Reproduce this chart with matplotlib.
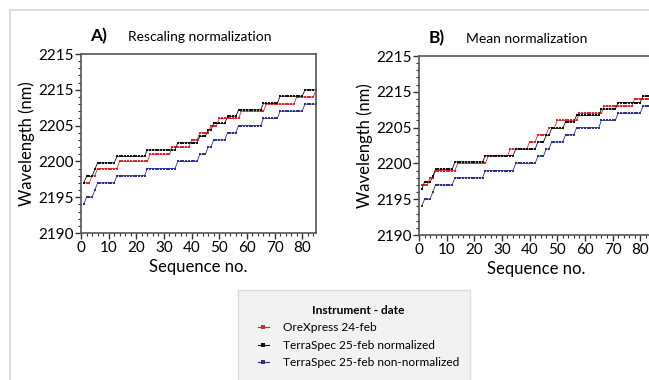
import numpy as np
import matplotlib.pyplot as plt
from matplotlib.patches import Rectangle
from matplotlib.lines import Line2D

plt.rcParams['font.family'] = ['Lato', 'DejaVu Sans']

# sequence number of each measurement
seq = list(range(1, 86))

# OreXpress 24-feb (same reference series in both panels)
orexpress = [2197, 2197, 2197, 2198, 2198,
             2199, 2199, 2199, 2199, 2199, 2199, 2199, 2199,
             2200, 2200, 2200, 2200, 2200, 2200, 2200, 2200, 2200, 2200, 2200,
             2201, 2201, 2201, 2201, 2201, 2201, 2201, 2201,
             2202, 2202, 2202, 2202, 2202, 2202, 2202,
             2203, 2203, 2203,
             2204, 2204, 2204, 2204,
             2205, 2205, 2205,
             2206, 2206, 2206, 2206, 2206, 2206, 2206, 2206,
             2207, 2207, 2207, 2207, 2207, 2207, 2207, 2207, 2207,
             2208, 2208, 2208, 2208, 2208, 2208, 2208, 2208, 2208, 2208, 2208,
             2209, 2209, 2209, 2209, 2209, 2209, 2209,
             2210]

# TerraSpec 25-feb non-normalized
terra_raw = [2194, 2195, 2195, 2195, 2196,
             2197, 2197, 2197, 2197, 2197, 2197, 2197,
             2198, 2198, 2198, 2198, 2198, 2198, 2198, 2198, 2198, 2198, 2198,
             2199, 2199, 2199, 2199, 2199, 2199, 2199, 2199, 2199, 2199, 2199,
             2200, 2200, 2200, 2200, 2200, 2200, 2200, 2200,
             2201, 2201, 2201,
             2202, 2202,
             2203, 2203, 2203, 2203, 2203,
             2204, 2204, 2204, 2204,
             2205, 2205, 2205, 2205, 2205, 2205, 2205, 2205, 2205,
             2206, 2206, 2206, 2206, 2206, 2206,
             2207, 2207, 2207, 2207, 2207, 2207, 2207, 2207, 2207,
             2208, 2208, 2208, 2208, 2208]

# TerraSpec 25-feb normalized, rescaling (panel A)
terra_rescaled = [2197.0, 2197.9, 2197.9, 2197.9, 2198.9,
                  2199.8, 2199.8, 2199.8, 2199.8, 2199.8, 2199.8, 2199.8,
                  2200.7, 2200.7, 2200.7, 2200.7, 2200.7, 2200.7, 2200.7, 2200.7, 2200.7, 2200.7, 2200.7,
                  2201.6, 2201.6, 2201.6, 2201.6, 2201.6, 2201.6, 2201.6, 2201.6, 2201.6, 2201.6, 2201.6,
                  2202.6, 2202.6, 2202.6, 2202.6, 2202.6, 2202.6, 2202.6, 2202.6,
                  2203.5, 2203.5, 2203.5,
                  2204.4, 2204.4,
                  2205.3, 2205.3, 2205.3, 2205.3, 2205.3,
                  2206.3, 2206.3, 2206.3, 2206.3,
                  2207.2, 2207.2, 2207.2, 2207.2, 2207.2, 2207.2, 2207.2, 2207.2, 2207.2,
                  2208.1, 2208.1, 2208.1, 2208.1, 2208.1, 2208.1,
                  2209.1, 2209.1, 2209.1, 2209.1, 2209.1, 2209.1, 2209.1, 2209.1, 2209.1,
                  2210.0, 2210.0, 2210.0, 2210.0, 2210.0]

# TerraSpec 25-feb normalized, mean (panel B)
terra_mean = [2196.4, 2197.4, 2197.4, 2197.4, 2198.2,
              2199.2, 2199.2, 2199.2, 2199.2, 2199.2, 2199.2, 2199.2,
              2200.2, 2200.2, 2200.2, 2200.2, 2200.2, 2200.2, 2200.2, 2200.2, 2200.2, 2200.2, 2200.2,
              2201.1, 2201.1, 2201.1, 2201.1, 2201.1, 2201.1, 2201.1, 2201.1, 2201.1, 2201.1, 2201.1,
              2202.0, 2202.0, 2202.0, 2202.0, 2202.0, 2202.0, 2202.0, 2202.0,
              2203.0, 2203.0, 2203.0,
              2203.9, 2203.9,
              2204.9, 2204.9, 2204.9, 2204.9, 2204.9,
              2205.8, 2205.8, 2205.8, 2205.8,
              2206.7, 2206.7, 2206.7, 2206.7, 2206.7, 2206.7, 2206.7, 2206.7, 2206.7,
              2207.6, 2207.6, 2207.6, 2207.6, 2207.6, 2207.6,
              2208.5, 2208.5, 2208.5, 2208.5, 2208.5, 2208.5, 2208.5, 2208.5, 2208.5,
              2209.4, 2209.4, 2209.4, 2209.4, 2209.4]

y_ticks = [2190, 2195, 2200, 2205, 2210, 2215]
y_ticklabels = ['2190', '2195', '2200', '2205', '2215', '2215']
x_ticks = [0, 10, 20, 30, 40, 50, 60, 70, 80]

series_names = ['OreXpress 24-feb', 'TerraSpec 25-feb normalized', 'TerraSpec 25-feb non-normalized']
colors = ['#e3242b', '#111111', '#2e3192']

fig = plt.figure(figsize=(6.49, 3.80), dpi=100)

# light page frame
fig.add_artist(Rectangle((10 / 649, -0.1), 1.2, 1 - 9.5 / 380 + 0.1, transform=fig.transFigure,
                         fill=False, edgecolor='#dcdcdc', linewidth=1.5))

ax_a = fig.add_axes([81 / 649, 147 / 380, 235 / 649, 179 / 380])
ax_b = fig.add_axes([419 / 649, 145 / 380, 235 / 649, 179 / 380])

panels = [(ax_a, terra_rescaled, 'A)', 'Rescaling normalization'),
          (ax_b, terra_mean, 'B)', 'Mean normalization')]

for ax, terra_norm, letter, title in panels:
    for vals, c in zip([orexpress, terra_norm, terra_raw], colors):
        ax.plot(seq, vals, color=c, linewidth=0.6, marker='s', markersize=1.9,
                markeredgewidth=0)
    ax.set_xlim(0, 85)
    ax.set_ylim(2190, 2215)
    ax.set_xticks(x_ticks)
    ax.set_xticks(np.arange(0, 86, 2), minor=True)
    ax.set_yticks(y_ticks)
    ax.set_yticklabels(y_ticklabels)
    ax.set_yticks(np.arange(2190, 2216, 1), minor=True)
    ax.tick_params(which='major', direction='out', length=4, width=1, labelsize=11, pad=1.5, color='#333333')
    ax.tick_params(which='minor', direction='out', length=2, width=0.8, color='#333333')
    for sp in ax.spines.values():
        sp.set_color('#555555')
        sp.set_linewidth(1.2)
    ax.set_xlabel('Sequence no.', fontsize=12, labelpad=3)
    ax.set_ylabel('Wavelength (nm)', fontsize=12, labelpad=2)
    ax.text(0.04, 1.055, letter, transform=ax.transAxes, fontsize=12.5, fontweight='bold', va='bottom')
    ax.text(0.20, 1.06, title, transform=ax.transAxes, fontsize=10, va='bottom')

# legend box
fig.add_artist(Rectangle((238 / 649, -0.1), 232 / 649, (380 - 290) / 380 + 0.1, transform=fig.transFigure,
                         facecolor='#f2f2f2', edgecolor='#dddddd', linewidth=1))
handles = [Line2D([0], [0], color=c, linewidth=0.8, marker='s', markersize=2.2, markeredgewidth=0)
           for c in colors]
leg = fig.legend(handles, series_names, title='Instrument - date', loc='upper left',
                 bbox_to_anchor=(247 / 649, 1 - 294 / 380), frameon=False, fontsize=8.6,
                 handlelength=0.9, handletextpad=1.2, labelspacing=0.55, alignment='center')
leg.get_title().set_fontweight('bold')
leg.get_title().set_fontsize(8.6)

fig.savefig('out.png', dpi=100)
